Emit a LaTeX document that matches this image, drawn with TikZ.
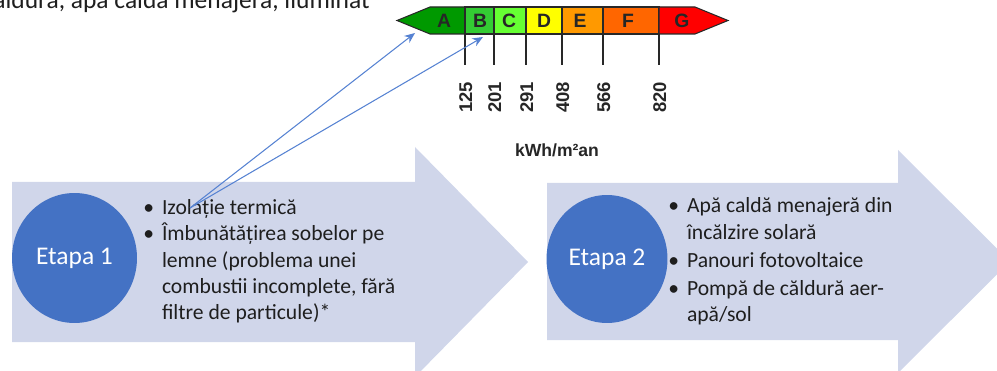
\documentclass[tikz,border=0pt]{standalone}
\usepackage{fontspec}
\setmainfont{Carlito}
\newfontfamily\arialfont{Liberation Sans}
\usetikzlibrary{arrows.meta,shapes.geometric}
\definecolor{arrowfill}{RGB}{208,214,234}
\definecolor{circblue}{RGB}{68,114,196}
\definecolor{linkblue}{RGB}{86,130,210}
\definecolor{txt}{RGB}{30,30,30}
\definecolor{cA}{RGB}{0,153,0}
\definecolor{cB}{RGB}{51,204,51}
\definecolor{cC}{RGB}{102,255,51}
\definecolor{cD}{RGB}{255,255,0}
\definecolor{cE}{RGB}{255,153,0}
\definecolor{cF}{RGB}{255,102,0}
\definecolor{cG}{RGB}{255,0,0}
\definecolor{lbline}{RGB}{40,40,40}
\newcommand\bul{\textbullet}
\tikzset{
  bigarrow/.style={fill=arrowfill, draw=none},
  etapa/.style={ellipse, fill=circblue, draw=none, text=white, inner sep=0pt,
    font=\fontsize{14.5}{16}\selectfont},
  bullets/.style={anchor=west, inner sep=0pt, text=txt,
    font=\fontsize{12.3}{15}\selectfont},
  seg/.style={draw=lbline, line width=0.6pt},
  letter/.style={font=\arialfont\bfseries\fontsize{11}{12}\selectfont, inner sep=0pt, text=black!85},
  tick/.style={draw=lbline, line width=0.8pt},
  num/.style={rotate=90, inner sep=0pt, text height=7.5pt, text depth=0pt,
    font=\arialfont\bfseries\fontsize{10.5}{12}\selectfont, text=black!85},
  link/.style={draw=linkblue, line width=0.6pt, -{Stealth[length=6pt,width=5pt]}}
}
\begin{document}
\begin{tikzpicture}[x=0.02cm,y=-0.02cm]
\useasboundingbox (0,0) rectangle (997,371);
\clip (0,0) rectangle (997,371);
% top text (cut at the top edge, as in the reference)
\node[anchor=base east, inner sep=0pt, text=txt, font=\fontsize{14.5}{17}\selectfont] (toptext) at (370,9) {căldură, apă caldă menajeră, iluminat};
% big arrows
\path[bigarrow] (12,182) -- (415,182) -- (415,147) -- (528,262) -- (415,377) -- (415,342) -- (12,342) -- cycle;
\path[bigarrow] (547,183) -- (898,183) -- (898,150) -- (1010,261.5) -- (898,373) -- (898,340) -- (547,340) -- cycle;
% circles
\node[etapa, minimum width=2.5cm, minimum height=2.6cm] (e1) at (74.5,258) {Etapa 1};
\node[etapa, minimum width=2.42cm, minimum height=2.56cm] (e2) at (607,259) {Etapa 2};
% bullet texts
\node[bullets] (t1) at (143,262) {\begin{tabular}{@{}l@{\hspace{4.5pt}}l@{}}
\bul & Izolație termică\\
\bul & Îmbunătățirea sobelor pe\\
 & lemne (problema unei\\
 & combustii incomplete, fără\\
 & filtre de particule)*
\end{tabular}};
\node[bullets] (t2) at (668,262) {\begin{tabular}{@{}l@{\hspace{4.5pt}}l@{}}
\bul & Apă caldă menajeră din\\
 & încălzire solară\\[1pt]
\bul & Panouri fotovoltaice\\[1pt]
\bul & Pompă de căldură aer-\\
 & apă/sol
\end{tabular}};
% energy label
\path[seg, fill=cA] (397,20.5) -- (430,7) -- (465,7) -- (465,34) -- (430,34) -- cycle;
\path[seg, fill=cB] (465,7) rectangle (494,34);
\path[seg, fill=cC] (494,7) rectangle (526,34);
\path[seg, fill=cD] (526,7) rectangle (562,34);
\path[seg, fill=cE] (562,7) rectangle (603,34);
\path[seg, fill=cF] (603,7) rectangle (659,34);
\path[seg, fill=cG] (659,7) -- (695,7) -- (728,20.5) -- (695,34) -- (659,34) -- cycle;
\node[letter] (lA) at (444,21) {A};
\node[letter] (lB) at (480,21) {B};
\node[letter] (lC) at (509,21) {C};
\node[letter] (lD) at (544,21) {D};
\node[letter] (lE) at (580,21) {E};
\node[letter] (lF) at (628,21) {F};
\node[letter] (lG) at (682,21) {G};
% ticks and numbers
\foreach \x/\v in {465/125,494/201,526/291,562/408,603/566,659/820}{
  \draw[tick] (\x,34) -- (\x,65);
  \node[num] (n\v) at (\x+0.5,97.5) {\v};
}
\node[inner sep=0pt, text=black!85, font=\arialfont\bfseries\fontsize{10}{12}\selectfont] (unit) at (557,150) {kWh/m²an};
% links
\coordinate (src) at (190,208);
\coordinate (tA) at (415,33);
\coordinate (tB) at (483,37);
\draw[link] (src) -- (tA);
\draw[link] (src) -- (tB);
\end{tikzpicture}
\end{document}
